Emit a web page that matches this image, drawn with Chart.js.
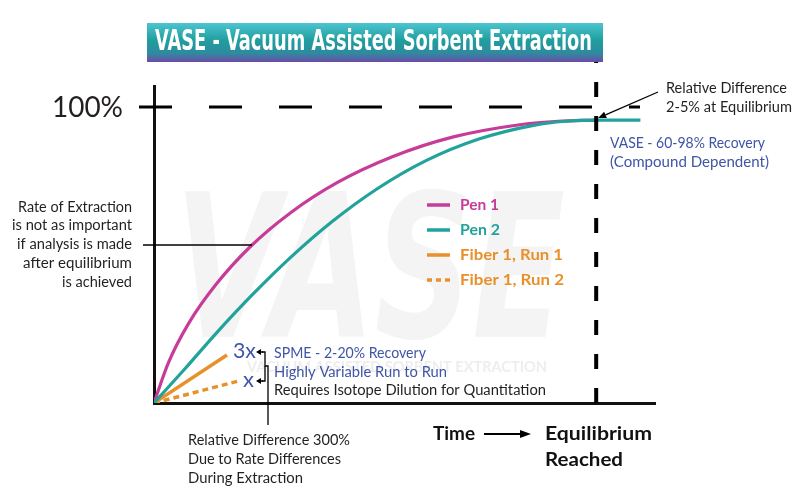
<!DOCTYPE html>
<html><head><meta charset="utf-8">
<script src="https://cdn.jsdelivr.net/npm/chart.js@4.4.1/dist/chart.umd.min.js"></script>
<style>html,body{margin:0;padding:0;background:#fff;}#wrap{width:800px;height:492px;}</style>
</head><body><div id="wrap"><canvas id="c" width="800" height="492"></canvas></div>
<script>
// ---- data (time in % of equilibrium time, recovery in %) ----
const seriesLabels = ['Pen 1', 'Pen 2', 'Fiber 1, Run 1', 'Fiber 1, Run 2'];
const pen1Time = [0, 3.2, 7.8, 14, 21.7, 30.9, 41.6, 53.9, 67.7, 83.1, 91.4, 100];
const pen1Recovery = [0, 13.4, 26.8, 40, 52.7, 64.3, 74.6, 83.2, 89.9, 94.1, 95.2, 95.6];
const pen2Time = [0, 6.9, 14.2, 22.2, 30.9, 40.3, 50.4, 61.4, 73.3, 86.1, 92.9, 100, 110];
const pen2Recovery = [0, 11.4, 23.8, 36.5, 49.2, 61.3, 72.3, 81.8, 89.1, 93.9, 95.2, 95.6, 95.6];
const fiberRun1Time = [0, 16.5];
const fiberRun1Recovery = [0, 16.2];
const fiberRun2Time = [0, 18.8];
const fiberRun2Recovery = [0, 7.3];
const fullRecovery = 100;     // dashed 100% line
const equilibriumTime = 100;  // dashed equilibrium line
const yTickLabel = '100%';

const C_PEN1 = '#c63c98', C_PEN2 = '#21a39b', C_FIB = '#e8912b', C_BLUE = '#3f55a6', C_TXT = '#231f20';
const BODY = "'Lato', 'Open Sans', sans-serif";

function pts(xs, ys) { return xs.map((x, i) => ({x: x, y: ys[i]})); }

function txt(ctx, s, x, y, font, color, align, w) {
  ctx.save();
  ctx.font = font; ctx.fillStyle = color; ctx.textBaseline = 'middle'; ctx.textAlign = 'left';
  const m = ctx.measureText(s).width;
  const k = w ? w / m : 1;
  const tw = w || m;
  const x0 = align === 'right' ? x - tw : (align === 'center' ? x - tw / 2 : x);
  ctx.translate(x0, y); ctx.scale(k, 1); ctx.fillText(s, 0, 0);
  ctx.restore();
}
function line(ctx, pts, lw, color, dash) {
  ctx.save(); ctx.strokeStyle = color || '#000'; ctx.lineWidth = lw; ctx.setLineDash(dash || []);
  ctx.beginPath(); ctx.moveTo(pts[0][0], pts[0][1]);
  for (let i = 1; i < pts.length; i++) ctx.lineTo(pts[i][0], pts[i][1]);
  ctx.stroke(); ctx.restore();
}
function arrow(ctx, x1, y1, x2, y2, lw, hl, hw) {
  const a = Math.atan2(y2 - y1, x2 - x1);
  const bx = x2 - hl * Math.cos(a), by = y2 - hl * Math.sin(a);
  line(ctx, [[x1, y1], [bx, by]], lw, '#000');
  ctx.save(); ctx.fillStyle = '#000'; ctx.beginPath();
  ctx.moveTo(x2, y2);
  ctx.lineTo(bx + hw * Math.sin(a), by - hw * Math.cos(a));
  ctx.lineTo(bx - hw * Math.sin(a), by + hw * Math.cos(a));
  ctx.closePath(); ctx.fill(); ctx.restore();
}

const decor = {
  id: 'decor',
  beforeDatasetsDraw(chart) {
    const ctx = chart.ctx;
    // faint watermark
    ctx.save();
    txt(ctx, 'VASE', 175, 285, "italic bold 200px 'DejaVu Sans Condensed', 'Liberation Sans', sans-serif", '#f4f4f4', 'left', 390);
    txt(ctx, 'VACUUM ASSISTED SORBENT EXTRACTION', 247, 367, "bold 15px " + BODY, '#eeeeee', 'left', 300);
    ctx.restore();
  },
  afterDatasetsDraw(chart) {
    const ctx = chart.ctx, xs = chart.scales.x, ys = chart.scales.y;
    const yFull = ys.getPixelForValue(fullRecovery);
    const xEq = xs.getPixelForValue(equilibriumTime);
    // dashed 100% line
    ctx.save(); ctx.strokeStyle = '#000'; ctx.lineWidth = 3; ctx.setLineDash([33, 37]);
    ctx.beginPath(); ctx.moveTo(139, yFull); ctx.lineTo(640, yFull); ctx.stroke(); ctx.restore();
    // dashed equilibrium line
    ctx.save(); ctx.strokeStyle = '#000'; ctx.lineWidth = 4; ctx.setLineDash([15, 19]);
    ctx.beginPath(); ctx.moveTo(xEq, 48); ctx.lineTo(xEq, 420); ctx.stroke(); ctx.restore();

    // title banner
    const g = ctx.createLinearGradient(0, 23, 0, 62);
    g.addColorStop(0, '#4cc5d0'); g.addColorStop(0.45, '#1f9e9e'); g.addColorStop(0.78, '#2f8aa0'); g.addColorStop(1, '#6d4aa8');
    ctx.fillStyle = g; ctx.fillRect(147, 23, 456, 39);
    txt(ctx, 'VASE - Vacuum Assisted Sorbent Extraction', 155, 43, "bold 28px 'Liberation Sans Narrow', 'DejaVu Sans Condensed', sans-serif", '#ffffff', 'left', 437);

    // y tick label
    txt(ctx, yTickLabel, 52, yFull + 1, "28px " + BODY, C_TXT, 'left', 71);

    // left annotation
    const left = ['Rate of Extraction', 'is not as important', 'if analysis is made', 'after equilibrium', 'is achieved'];
    const lw = [114, 120, 115, 109, 70];
    left.forEach((s, i) => txt(ctx, s, 132, 207 + i * 18.8, "14.5px " + BODY, C_TXT, 'right', lw[i]));
    line(ctx, [[143, 245], [252, 245]], 1.3);

    // legend
    const lc = [C_PEN1, C_PEN2, C_FIB, C_FIB];
    const lwid = [39, 40, 103, 104];
    seriesLabels.forEach((s, i) => {
      const y = 205 + i * 25;
      line(ctx, [[427, y], [450, y]], 3.5, lc[i], i === 3 ? [5, 4] : []);
      txt(ctx, s, 460, y, "bold 16px " + BODY, lc[i], 'left', lwid[i]);
    });

    // right annotations
    txt(ctx, 'Relative Difference', 666, 88, "14.5px " + BODY, C_TXT, 'left', 121);
    txt(ctx, '2-5% at Equilibrium', 666, 107, "14.5px " + BODY, C_TXT, 'left', 126);
    arrow(ctx, 658, 92, xEq + 2, ys.getPixelForValue(95.6) - 2, 1.3, 8, 3.5);
    txt(ctx, 'VASE - 60-98% Recovery', 610, 143, "14.5px " + BODY, C_BLUE, 'left', 155);
    txt(ctx, '(Compound Dependent)', 610, 162, "14.5px " + BODY, C_BLUE, 'left', 159);

    // SPME annotation
    txt(ctx, '3x', 233, 351, "21px " + BODY, C_BLUE, 'left', 23);
    txt(ctx, 'x', 243, 380, "21px " + BODY, C_BLUE, 'left', 11);
    txt(ctx, 'SPME - 2-20% Recovery', 274, 353, "14.5px " + BODY, C_BLUE, 'left', 152);
    txt(ctx, 'Highly Variable Run to Run', 274, 372, "14.5px " + BODY, C_BLUE, 'left', 173);
    txt(ctx, 'Requires Isotope Dilution for Quantitation', 274, 390, "14.5px " + BODY, C_TXT, 'left', 272);
    // bracket
    line(ctx, [[262, 352], [265, 352], [265, 366], [268, 366], [268, 425]], 1.3);
    line(ctx, [[265, 366], [265, 381], [262, 381]], 1.3);
    arrow(ctx, 263, 352, 256, 352, 1.3, 5, 3);
    arrow(ctx, 263, 381, 256, 381, 1.3, 5, 3);
    txt(ctx, 'Relative Difference 300%', 188, 440, "14.5px " + BODY, C_TXT, 'left', 162);
    txt(ctx, 'Due to Rate Differences', 188, 459, "14.5px " + BODY, C_TXT, 'left', 153);
    txt(ctx, 'During Extraction', 188, 478, "14.5px " + BODY, C_TXT, 'left', 115);

    // x axis labels
    txt(ctx, 'Time', 433, 434, "bold 18px " + BODY, '#111', 'left', 42);
    arrow(ctx, 484, 434, 531, 434, 1.8, 11, 4);
    txt(ctx, 'Equilibrium', 545, 434, "bold 18px " + BODY, '#111', 'left', 107);
    txt(ctx, 'Reached', 545, 460, "bold 18px " + BODY, '#111', 'left', 78);
  }
};

const hideFit = s => { if (s.isHorizontal()) s.height = 0; else s.width = 0; };

new Chart(document.getElementById('c'), {
  type: 'line',
  data: {
    datasets: [
      {label: seriesLabels[0], data: pts(pen1Time, pen1Recovery), borderColor: C_PEN1, borderWidth: 3.2, pointRadius: 0, fill: false, cubicInterpolationMode: 'monotone', order: 2},
      {label: seriesLabels[1], data: pts(pen2Time, pen2Recovery), borderColor: C_PEN2, borderWidth: 3.2, pointRadius: 0, fill: false, cubicInterpolationMode: 'monotone', order: 1},
      {label: seriesLabels[2], data: pts(fiberRun1Time, fiberRun1Recovery), borderColor: C_FIB, borderWidth: 3.5, pointRadius: 0, fill: false, order: 3},
      {label: seriesLabels[3], data: pts(fiberRun2Time, fiberRun2Recovery), borderColor: C_FIB, borderWidth: 3.5, borderDash: [6, 4], pointRadius: 0, fill: false, order: 4}
    ]
  },
  options: {
    responsive: false, animation: false, devicePixelRatio: 1,
    layout: {padding: {left: 154, right: 145, top: 86, bottom: 89}},
    plugins: {legend: {display: false}, tooltip: {enabled: false}, title: {display: false}},
    scales: {
      x: {type: 'linear', min: 0, max: 113.3, grid: {display: false, drawTicks: false}, ticks: {display: false},
          border: {display: true, color: '#111', width: 3}, afterFit: hideFit},
      y: {type: 'linear', min: 0, max: 107.1, grid: {display: false, drawTicks: false}, ticks: {display: false},
          border: {display: true, color: '#111', width: 3}, afterFit: hideFit}
    }
  },
  plugins: [decor]
});
</script>
</body></html>
